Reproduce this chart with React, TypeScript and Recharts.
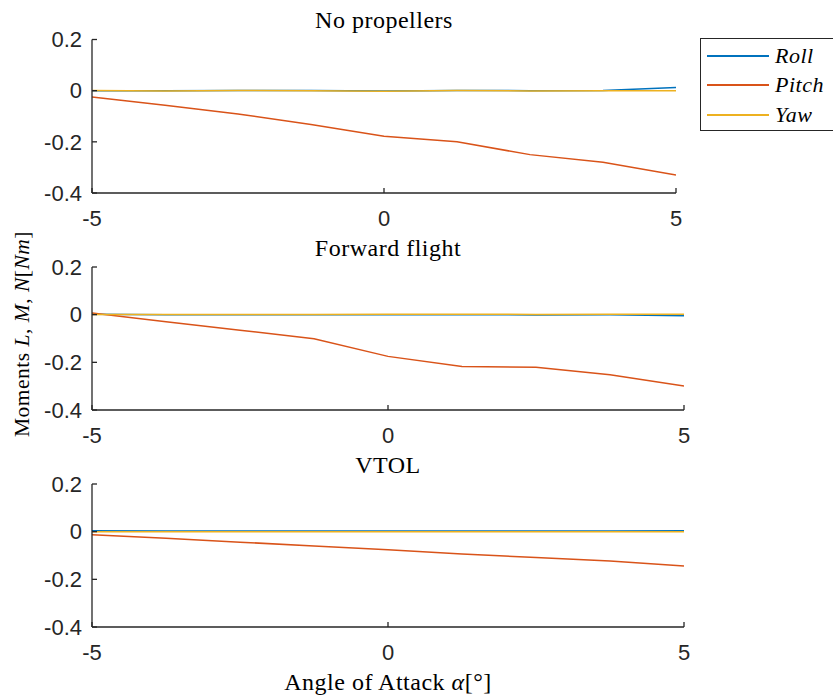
import React from 'react';
import { LineChart, Line, XAxis, YAxis } from 'recharts';

const alpha = [-5, -3.75, -2.5, -1.25, 0, 1.25, 2.5, 3.75, 5];

const noPropRoll = [0, 0, 0.001, 0.001, -0.001, 0.001, 0, 0.001, 0.012];
const noPropPitch = [-0.025, -0.057, -0.091, -0.132, -0.178, -0.2, -0.25, -0.28, -0.33];
const noPropYaw = [0.001, -0.001, 0.001, 0, -0.002, 0.001, -0.001, 0, 0];

const fwdRoll = [0.002, 0, 0, 0, 0, 0, -0.001, 0, -0.005];
const fwdPitch = [0.007, -0.03, -0.065, -0.101, -0.175, -0.217, -0.221, -0.252, -0.299];
const fwdYaw = [0.001, 0.001, 0.001, 0.001, 0.002, 0.002, 0.001, 0.002, 0.002];

const vtolRoll = [0.004, 0.003, 0.003, 0.003, 0.003, 0.003, 0.003, 0.003, 0.004];
const vtolPitch = [-0.013, -0.028, -0.044, -0.06, -0.076, -0.094, -0.108, -0.123, -0.144];
const vtolYaw = [0, 0, 0, 0, 0, 0, 0, 0, 0];

const xTicks = [-5, 0, 5];
const yTicks = [-0.4, -0.2, 0, 0.2];

const seriesNames = ['Roll', 'Pitch', 'Yaw'];
const colors = ['#0072BD', '#D95319', '#EDB120'];

const AX = '#262626';
const SANS = '"Liberation Sans", Arial, sans-serif';
const SERIF = '"Liberation Serif", "DejaVu Serif", serif';

function rows(roll: number[], pitch: number[], yaw: number[]) {
  return alpha.map((a, i) => ({ a, Roll: roll[i], Pitch: pitch[i], Yaw: yaw[i] }));
}

const tickStyle = { fill: AX, fontSize: 22, fontFamily: SANS };

function LegendBox() {
  return (
    <div
      style={{
        position: 'absolute',
        left: 700,
        top: 38,
        border: '1px solid #262626',
        background: '#fff',
        width: 140,
        height: 93,
        boxSizing: 'border-box',
        paddingTop: 2,
      }}
    >
      {seriesNames.map((n, i) => (
        <div key={n} style={{ display: 'flex', alignItems: 'center', height: 29.5 }}>
          <div style={{ width: 62, height: 2, background: colors[i], marginLeft: 6, marginRight: 6 }} />
          <span style={{ fontFamily: SERIF, fontStyle: 'italic', fontSize: 22, color: '#000', letterSpacing: 0.5 }}>{n}</span>
        </div>
      ))}
    </div>
  );
}

type PanelProps = {
  data: ReturnType<typeof rows>;
  top: number;
  height: number;
  marginTop: number;
  marginRight: number;
  xAxisHeight: number;
};

function Panel({ data, top, height, marginTop, marginRight, xAxisHeight }: PanelProps) {
  return (
    <div style={{ position: 'absolute', left: 0, top }}>
      <LineChart
        width={833}
        height={height}
        data={data}
        margin={{ top: marginTop, right: marginRight, bottom: 0, left: 0 }}
      >
        <XAxis
          dataKey="a"
          type="number"
          domain={[-5, 5]}
          ticks={xTicks}
          height={xAxisHeight}
          tickSize={-5}
          tickMargin={22}
          stroke={AX}
          strokeWidth={1.3}
          tick={tickStyle}
          allowDataOverflow
        />
        <YAxis
          type="number"
          domain={[-0.4, 0.2]}
          ticks={yTicks}
          width={92}
          tickSize={-5}
          tickMargin={15}
          stroke={AX}
          strokeWidth={1.3}
          tick={tickStyle}
          allowDataOverflow
        />
        {seriesNames.map((n, i) => (
          <Line
            key={n}
            type="linear"
            dataKey={n}
            stroke={colors[i]}
            strokeWidth={1.5}
            dot={false}
            isAnimationActive={false}
          />
        ))}
      </LineChart>
    </div>
  );
}

const titleStyle: React.CSSProperties = {
  position: 'absolute',
  fontFamily: SERIF,
  fontSize: 24,
  color: '#000',
  transform: 'translate(-50%, -50%)',
  whiteSpace: 'nowrap',
  letterSpacing: 0.5,
};

export default function App() {
  return (
    <div style={{ position: 'absolute', left: 0, top: 0, width: 833, height: 697, background: '#fff', overflow: 'hidden' }}>
      <Panel data={rows(noPropRoll, noPropPitch, noPropYaw)} top={0} height={240} marginTop={39.5} marginRight={157} xAxisHeight={47} />
      <Panel data={rows(fwdRoll, fwdPitch, fwdYaw)} top={220} height={230} marginTop={47} marginRight={149} xAxisHeight={40} />
      <Panel data={rows(vtolRoll, vtolPitch, vtolYaw)} top={440} height={227} marginTop={44} marginRight={149} xAxisHeight={40} />

      <LegendBox />

      <div style={{ ...titleStyle, left: 384, top: 20 }}>No propellers</div>
      <div style={{ ...titleStyle, left: 388, top: 248 }}>Forward flight</div>
      <div style={{ ...titleStyle, left: 388, top: 465 }}>VTOL</div>

      <div style={{ ...titleStyle, left: 388, top: 682 }}>
        Angle of Attack <i>α</i>[°]
      </div>
      <div style={{ ...titleStyle, fontSize: 21.5, left: 22, top: 334, transform: 'translate(-50%, -50%) rotate(-90deg)' }}>
        Moments <i>L</i>, <i>M</i>, <i>N</i>[<i>Nm</i>]
      </div>
    </div>
  );
}
